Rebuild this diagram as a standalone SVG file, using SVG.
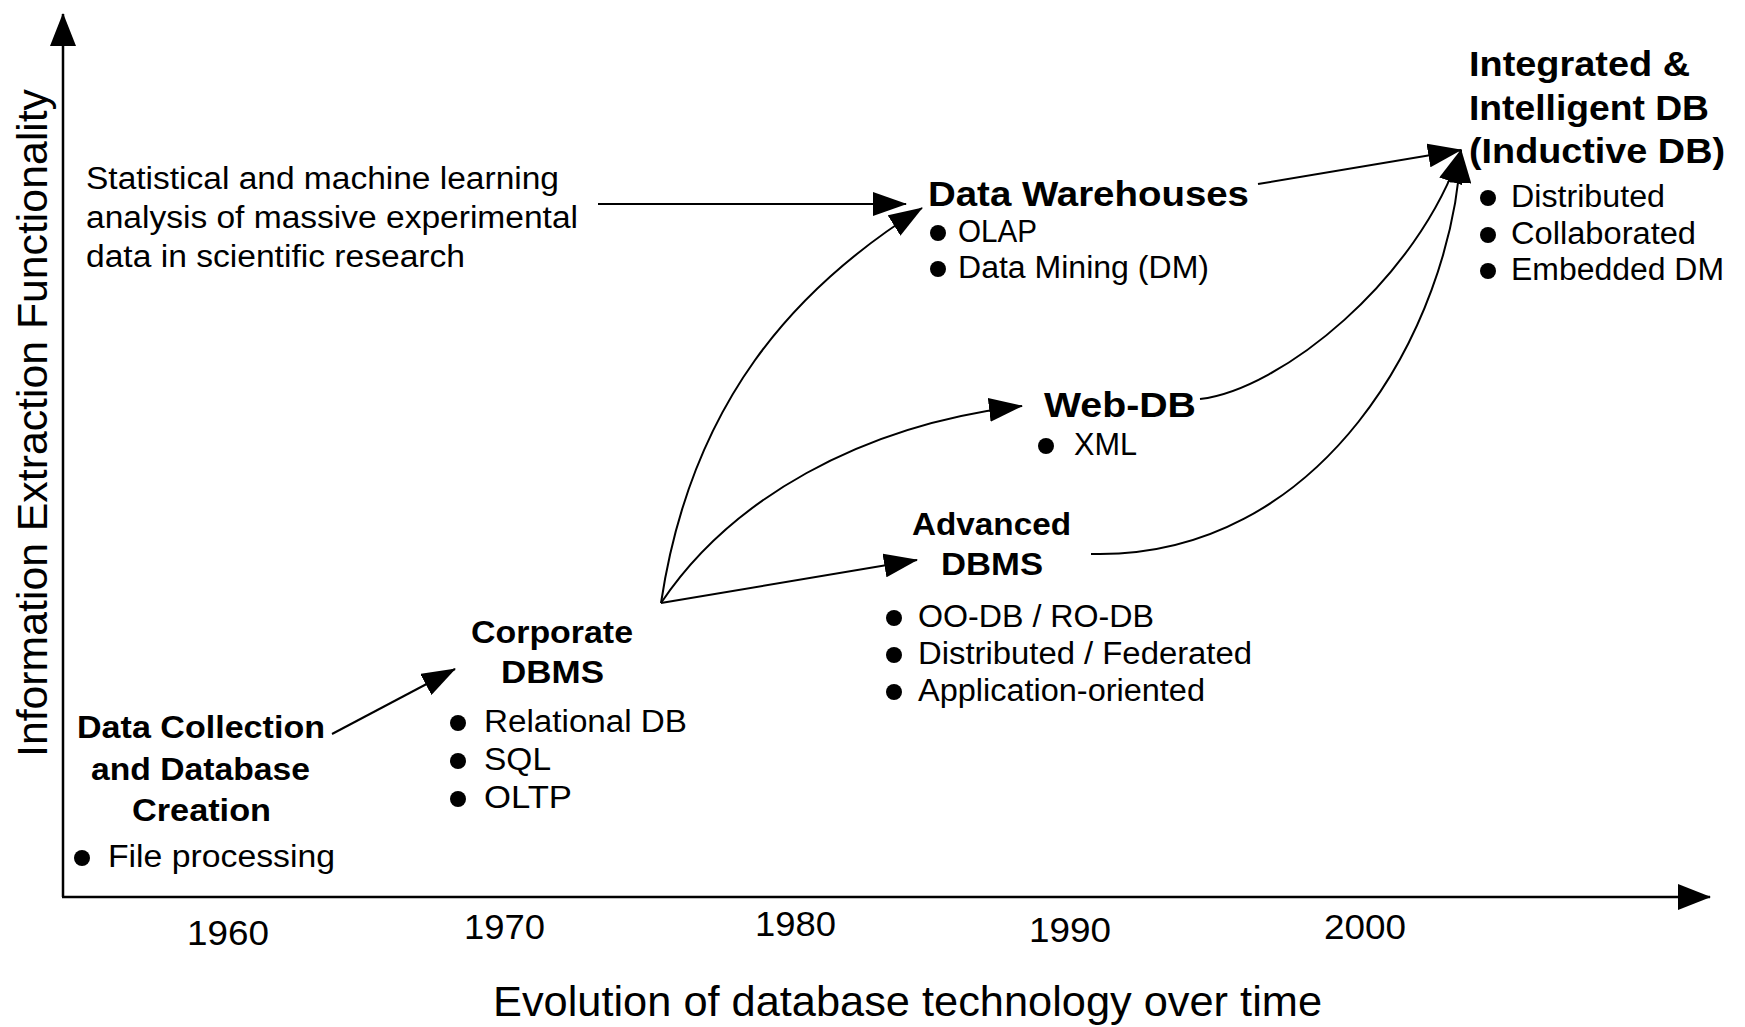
<svg xmlns="http://www.w3.org/2000/svg" width="1745" height="1027" viewBox="0 0 1745 1027">
  <defs>
    <style>
      text { font-family: "Liberation Sans", Arial, sans-serif; fill: #000; }
      .r { font-size: 31px; }
      .b { font-size: 32px; font-weight: bold; }
      .bb { font-size: 35px; font-weight: bold; }
      .yr { font-size: 35px; }
      .ax { font-size: 42px; }
      .axis { stroke: #000; stroke-width: 2.5; fill: none; }
      .link { stroke: #000; stroke-width: 2; fill: none; marker-end: url(#arrow); }
      .dot { fill: #000; }
    </style>
    <marker id="arrow" markerUnits="userSpaceOnUse" markerWidth="34" markerHeight="24" viewBox="0 0 34 24" refX="33" refY="12" orient="auto">
      <path d="M0,0 L34,12 L0,24 z" fill="#000"/>
    </marker>
    <marker id="axisHead" markerUnits="userSpaceOnUse" markerWidth="33" markerHeight="26" viewBox="0 0 33 26" refX="32" refY="13" orient="auto">
      <path d="M0,0 L33,13 L0,26 z" fill="#000"/>
    </marker>
  </defs>
  <rect width="1745" height="1027" fill="#fff"/>

  <!-- axes -->
  <g id="axes">
    <path class="axis" d="M63,897 L63,14" marker-end="url(#axisHead)"/>
    <path class="axis" d="M62,897 L1710,897" marker-end="url(#axisHead)"/>
    <text class="ax" transform="translate(47,423) rotate(-90)" text-anchor="middle" textLength="668" lengthAdjust="spacingAndGlyphs">Information Extraction Functionality</text>
    <text class="ax" x="493" y="1016" textLength="829" lengthAdjust="spacingAndGlyphs">Evolution of database technology over time</text>
    <text class="yr" x="187" y="945" textLength="82" lengthAdjust="spacingAndGlyphs">1960</text>
    <text class="yr" x="464" y="939" textLength="81" lengthAdjust="spacingAndGlyphs">1970</text>
    <text class="yr" x="755" y="936" textLength="81" lengthAdjust="spacingAndGlyphs">1980</text>
    <text class="yr" x="1029" y="942" textLength="82" lengthAdjust="spacingAndGlyphs">1990</text>
    <text class="yr" x="1324" y="939" textLength="82" lengthAdjust="spacingAndGlyphs">2000</text>
  </g>

  <!-- connectors -->
  <g id="connectors">
    <path class="link" d="M332,734 L455,669"/>
    <path class="link" d="M598,204 L906,204"/>
    <path class="link" d="M661,603 C691,403 794,288 922,208"/>
    <path class="link" d="M661,603 C730,500 860,425 1022,406"/>
    <path class="link" d="M661,603 L917,560"/>
    <path class="link" d="M1258,184 L1461,150"/>
    <path class="link" d="M1200,399 C1280,390 1418,280 1461,150"/>
    <path class="link" d="M1091,554 C1320,560 1452,330 1461,150"/>
  </g>

  <g id="scientific-note">
    <text class="r" x="86" y="189" textLength="473" lengthAdjust="spacingAndGlyphs">Statistical and machine learning</text>
    <text class="r" x="86" y="228" textLength="492" lengthAdjust="spacingAndGlyphs">analysis of massive experimental</text>
    <text class="r" x="86" y="267" textLength="379" lengthAdjust="spacingAndGlyphs">data in scientific research</text>
  </g>

  <g id="data-collection">
    <text class="b" x="77" y="738" textLength="248" lengthAdjust="spacingAndGlyphs">Data Collection</text>
    <text class="b" x="91" y="780" textLength="219" lengthAdjust="spacingAndGlyphs">and Database</text>
    <text class="b" x="132" y="821" textLength="139" lengthAdjust="spacingAndGlyphs">Creation</text>
    <circle class="dot" cx="82" cy="858" r="8"/>
    <text class="r" x="108" y="867" textLength="227" lengthAdjust="spacingAndGlyphs">File processing</text>
  </g>

  <g id="corporate-dbms">
    <text class="b" x="471" y="643" textLength="162" lengthAdjust="spacingAndGlyphs">Corporate</text>
    <text class="b" x="501" y="683" textLength="103" lengthAdjust="spacingAndGlyphs">DBMS</text>
    <circle class="dot" cx="458" cy="723" r="8"/>
    <text class="r" x="484" y="732" textLength="203" lengthAdjust="spacingAndGlyphs">Relational DB</text>
    <circle class="dot" cx="458" cy="761" r="8"/>
    <text class="r" x="484" y="770" textLength="67" lengthAdjust="spacingAndGlyphs">SQL</text>
    <circle class="dot" cx="458" cy="799" r="8"/>
    <text class="r" x="484" y="808" textLength="88" lengthAdjust="spacingAndGlyphs">OLTP</text>
  </g>

  <g id="advanced-dbms">
    <text class="b" x="912" y="535" textLength="159" lengthAdjust="spacingAndGlyphs">Advanced</text>
    <text class="b" x="941" y="575" textLength="102" lengthAdjust="spacingAndGlyphs">DBMS</text>
    <circle class="dot" cx="894" cy="618" r="8"/>
    <text class="r" x="918" y="627" textLength="236" lengthAdjust="spacingAndGlyphs">OO-DB / RO-DB</text>
    <circle class="dot" cx="894" cy="655" r="8"/>
    <text class="r" x="918" y="664" textLength="334" lengthAdjust="spacingAndGlyphs">Distributed / Federated</text>
    <circle class="dot" cx="894" cy="692" r="8"/>
    <text class="r" x="918" y="701" textLength="287" lengthAdjust="spacingAndGlyphs">Application-oriented</text>
  </g>

  <g id="web-db">
    <text class="bb" x="1044" y="417" textLength="152" lengthAdjust="spacingAndGlyphs">Web-DB</text>
    <circle class="dot" cx="1046" cy="446" r="8"/>
    <text class="r" x="1074" y="455" textLength="63" lengthAdjust="spacingAndGlyphs">XML</text>
  </g>

  <g id="data-warehouses">
    <text class="bb" x="928" y="206" textLength="321" lengthAdjust="spacingAndGlyphs">Data Warehouses</text>
    <circle class="dot" cx="938" cy="233" r="8"/>
    <text class="r" x="958" y="242" textLength="79" lengthAdjust="spacingAndGlyphs">OLAP</text>
    <circle class="dot" cx="938" cy="269" r="8"/>
    <text class="r" x="958" y="278" textLength="251" lengthAdjust="spacingAndGlyphs">Data Mining (DM)</text>
  </g>

  <g id="integrated-db">
    <text class="bb" x="1469" y="76" textLength="221" lengthAdjust="spacingAndGlyphs">Integrated &amp;</text>
    <text class="bb" x="1469" y="120" textLength="240" lengthAdjust="spacingAndGlyphs">Intelligent DB</text>
    <text class="bb" x="1469" y="163" textLength="256" lengthAdjust="spacingAndGlyphs">(Inductive DB)</text>
    <circle class="dot" cx="1488" cy="198" r="8"/>
    <text class="r" x="1511" y="207" textLength="154" lengthAdjust="spacingAndGlyphs">Distributed</text>
    <circle class="dot" cx="1488" cy="235" r="8"/>
    <text class="r" x="1511" y="244" textLength="185" lengthAdjust="spacingAndGlyphs">Collaborated</text>
    <circle class="dot" cx="1488" cy="271" r="8"/>
    <text class="r" x="1511" y="280" textLength="213" lengthAdjust="spacingAndGlyphs">Embedded DM</text>
  </g>
</svg>
